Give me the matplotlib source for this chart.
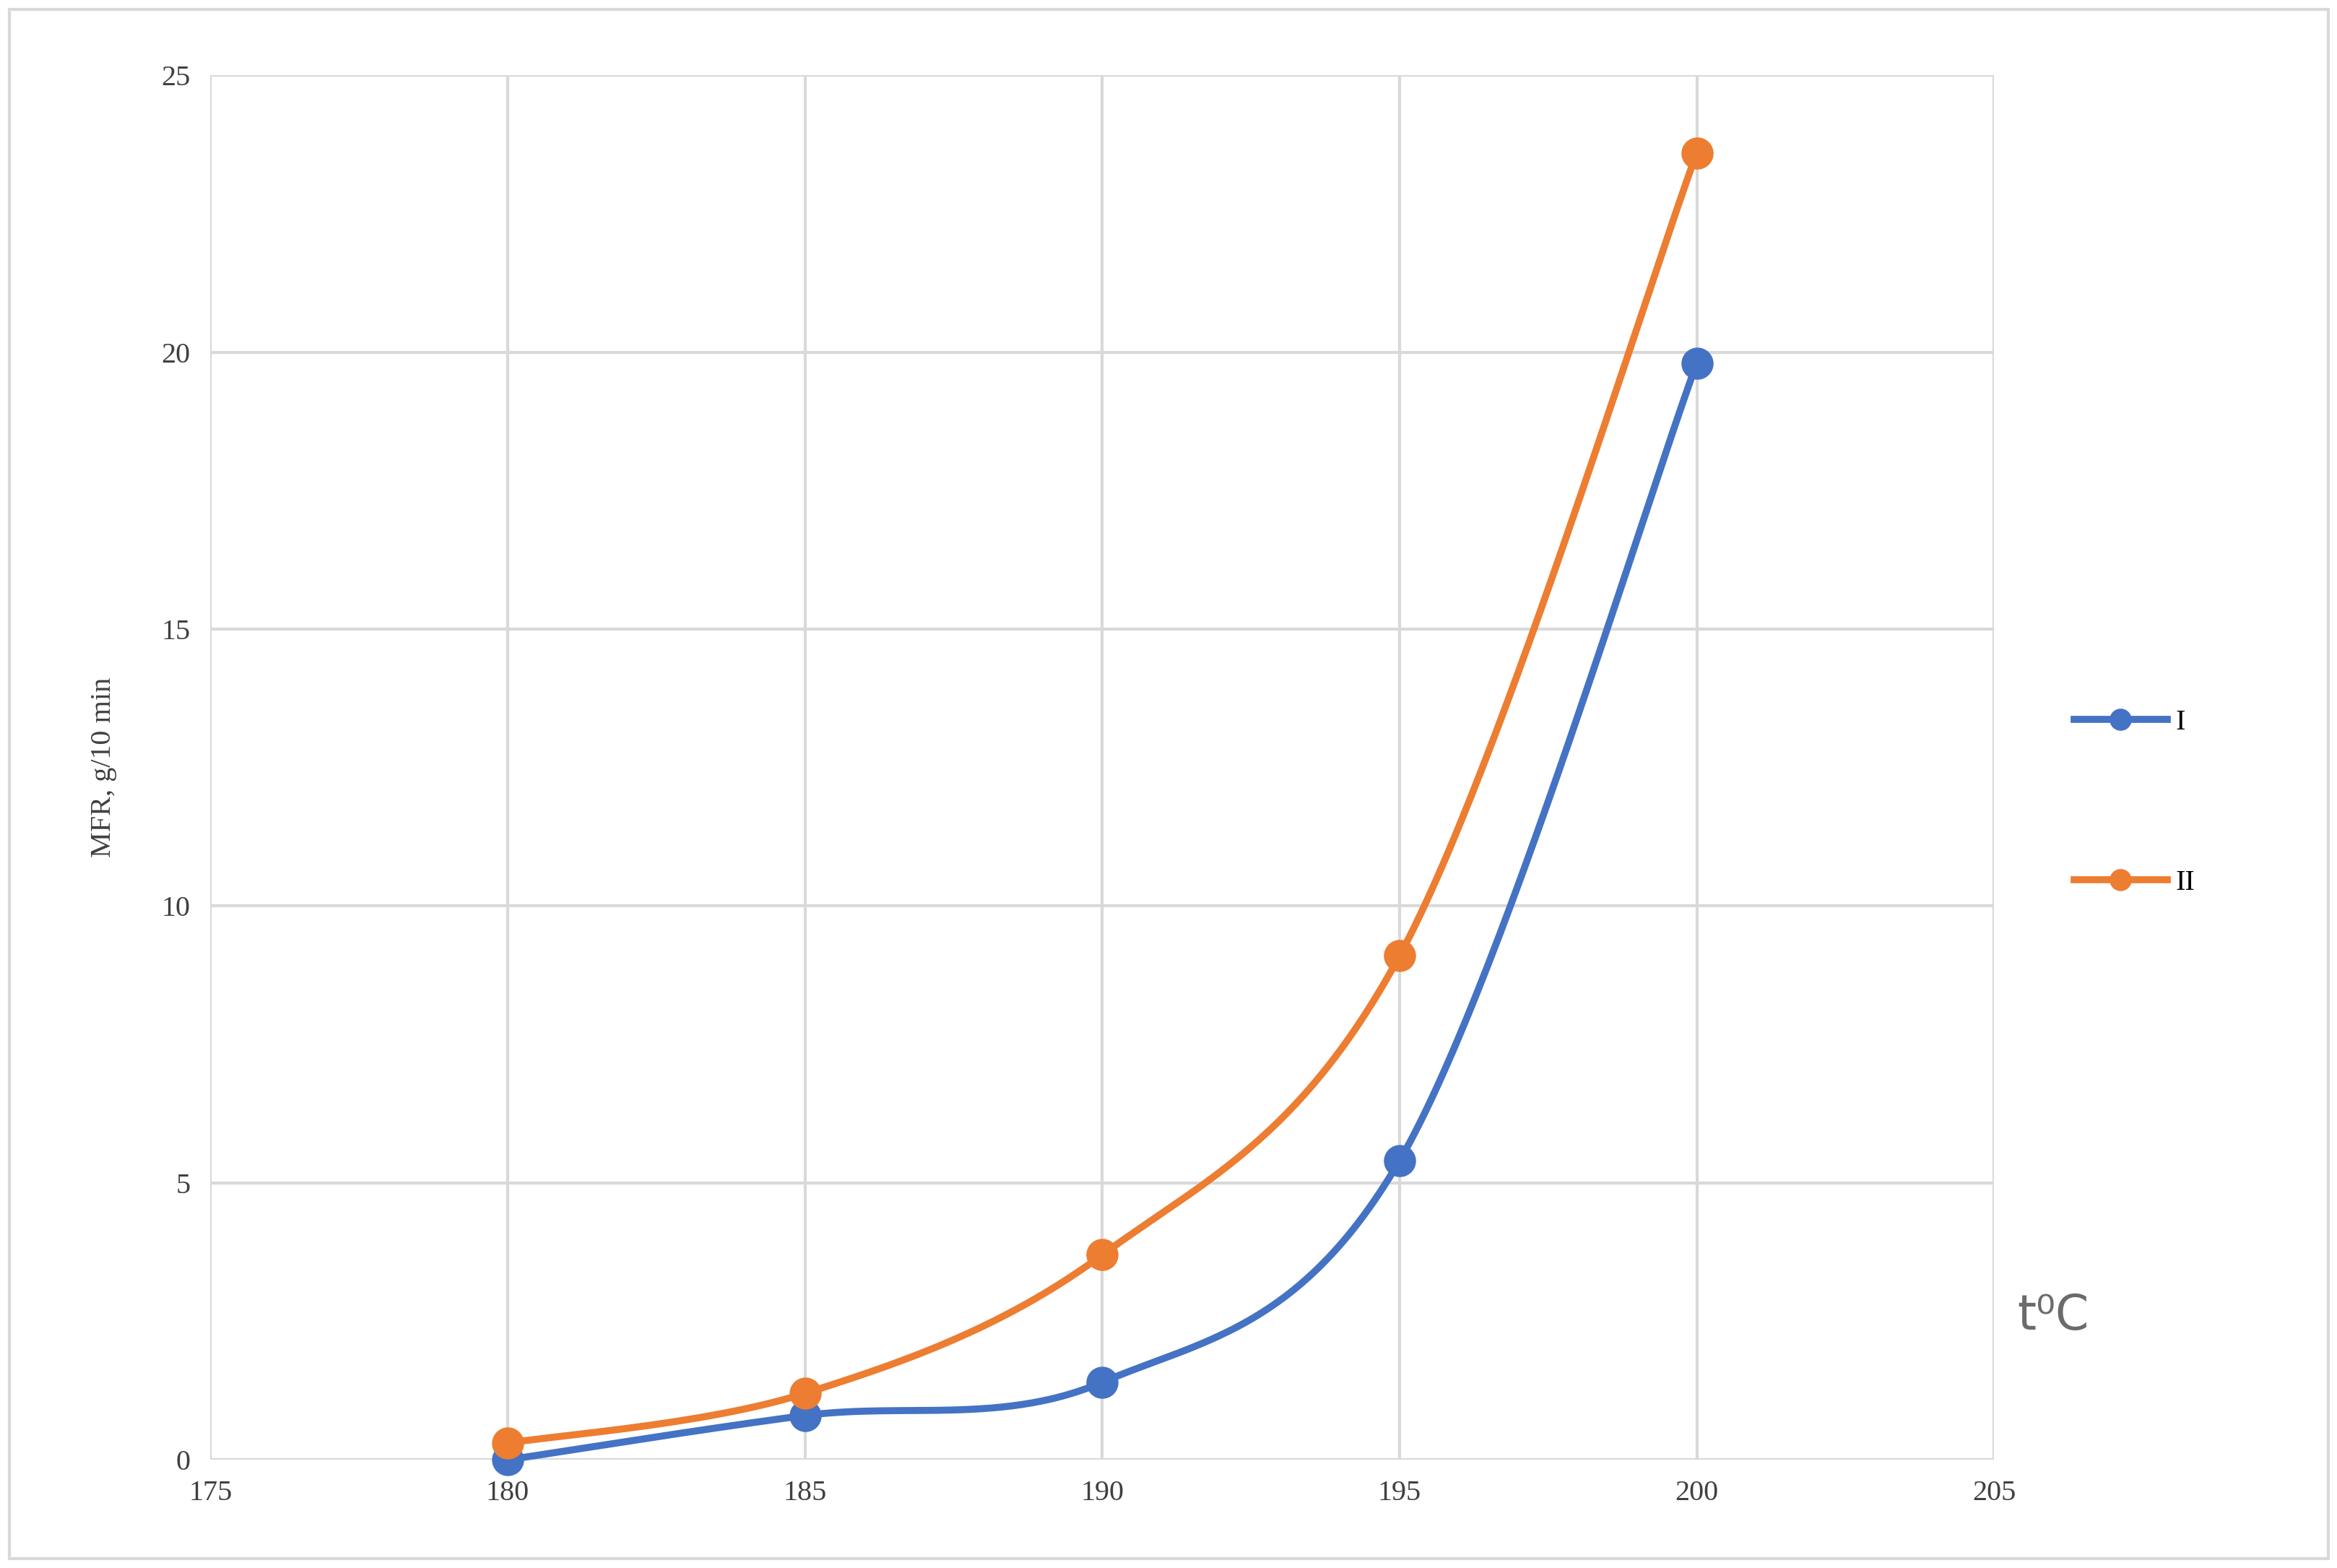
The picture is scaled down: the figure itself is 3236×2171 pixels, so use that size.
import numpy as np
import matplotlib
matplotlib.use('Agg')
import matplotlib.pyplot as plt
from matplotlib.lines import Line2D
from matplotlib.patches import Rectangle

temps = [180, 185, 190, 195, 200]
mfr_1 = [0.0, 0.8, 1.4, 5.4, 19.8]
mfr_2 = [0.3, 1.2, 3.7, 9.1, 23.6]
labels = ['I', 'II']
colors = ['#4472C4', '#ED7D31']


def smooth(x, y, n=60):
    # Excel-like smoothed line: cubic bezier with catmull-rom control points
    x = np.asarray(x, float); y = np.asarray(y, float)
    px, py = [], []
    for i in range(len(x) - 1):
        x0, y0 = (x[i - 1], y[i - 1]) if i > 0 else (x[i], y[i])
        x3, y3 = (x[i + 2], y[i + 2]) if i + 2 < len(x) else (x[i + 1], y[i + 1])
        c1x = x[i] + (x[i + 1] - x0) / 6; c1y = y[i] + (y[i + 1] - y0) / 6
        c2x = x[i + 1] - (x3 - x[i]) / 6; c2y = y[i + 1] - (y3 - y[i]) / 6
        t = np.linspace(0, 1, n)
        b = [(1 - t) ** 3, 3 * (1 - t) ** 2 * t, 3 * (1 - t) * t ** 2, t ** 3]
        px.extend(b[0] * x[i] + b[1] * c1x + b[2] * c2x + b[3] * x[i + 1])
        py.extend(b[0] * y[i] + b[1] * c1y + b[2] * c2y + b[3] * y[i + 1])
    return px, py


plt.rcParams['font.family'] = ['Liberation Serif', 'DejaVu Serif']
fig = plt.figure(figsize=(16.185, 10.855), dpi=200)
ax = fig.add_axes([0.090, 0.069, 0.763, 0.883])

for ys, lab, c in zip([mfr_1, mfr_2], labels, colors):
    sx, sy = smooth(temps, ys)
    ax.plot(sx, sy, color=c, lw=3.5, zorder=3, solid_capstyle='round', clip_on=False)
    ax.plot(temps, ys, 'o', color=c, ms=15, zorder=4, clip_on=False)

ax.set_xlim(175, 205)
ax.set_ylim(0, 25)
ax.set_xticks(range(175, 206, 5))
ax.set_yticks(range(0, 26, 5))
ax.grid(True, color='#D9D9D9', lw=1.5)
for s in ax.spines.values():
    s.set_visible(False)
ax.axhline(0, color='#D9D9D9', lw=1.5, zorder=1)
ax.tick_params(length=0, labelsize=14.5, colors='#404040', pad=10)
ax.set_ylabel('MFR, g/10 min', fontsize=14.5, color='#404040', labelpad=22)

handles = [Line2D([], [], color=c, lw=3.5, marker='o', ms=10) for c in colors]
fig.legend(handles, labels, loc='center left', bbox_to_anchor=(0.876, 0.488),
           frameon=False, fontsize=14.5, labelspacing=4.6, handlelength=3.2,
           handletextpad=0.3)

fig.text(0.863, 0.152, 't⁰C', fontsize=24, color='#6b6b6b', family='DejaVu Sans')
fig.add_artist(Rectangle((0.004, 0.006), 0.992, 0.988, transform=fig.transFigure,
                         fill=False, ec='#D9D9D9', lw=1.5))

fig.savefig('out.png', dpi=200)
